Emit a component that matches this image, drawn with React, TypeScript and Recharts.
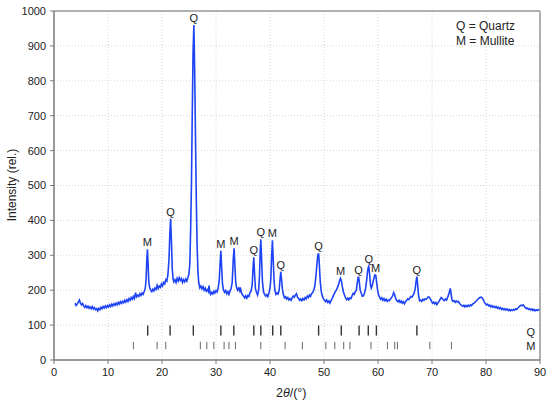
import { ComposedChart, Line, Scatter, XAxis, YAxis, CartesianGrid, ReferenceLine } from 'recharts'

// XRD scan: [2θ (°), intensity (rel.)]
const scan: [number, number][] = [
  [3.9, 163], [4.1, 156], [4.3, 160], [4.5, 166], [4.7, 172], [4.9, 163], [5.1, 158], [5.3, 162], [5.5, 155], [5.7, 151],
  [5.9, 156], [6.1, 150], [6.3, 154], [6.5, 148], [6.7, 152], [6.9, 147], [7.1, 153], [7.3, 146], [7.5, 150], [7.7, 144],
  [7.9, 147], [8.1, 141], [8.3, 148], [8.5, 144], [8.7, 151], [8.9, 147], [9.1, 153], [9.3, 149], [9.5, 155], [9.7, 150],
  [9.9, 156], [10.1, 152], [10.3, 158], [10.5, 153], [10.7, 160], [10.9, 155], [11.1, 161], [11.3, 157], [11.5, 163], [11.7, 158],
  [11.9, 165], [12.1, 160], [12.3, 167], [12.5, 162], [12.7, 168], [12.9, 164], [13.1, 171], [13.3, 166], [13.5, 173], [13.7, 168],
  [13.9, 176], [14.1, 171], [14.3, 179], [14.5, 174], [14.7, 182], [14.9, 176], [15.1, 193], [15.3, 181], [15.5, 186], [15.7, 182],
  [15.9, 190], [16.1, 185], [16.3, 192], [16.5, 188], [16.7, 196], [16.9, 205], [17.05, 230], [17.2, 290], [17.3, 317], [17.4, 285],
  [17.55, 225], [17.7, 208], [17.9, 200], [18.1, 196], [18.3, 203], [18.5, 198], [18.7, 206], [18.9, 202], [19.1, 214], [19.3, 205],
  [19.5, 212], [19.7, 208], [19.9, 218], [20.1, 212], [20.3, 222], [20.5, 218], [20.7, 230], [20.9, 226], [21.1, 245], [21.3, 290],
  [21.45, 360], [21.6, 405], [21.75, 340], [21.9, 262], [22.05, 232], [22.2, 224], [22.4, 230], [22.6, 222], [22.8, 234], [23.0, 226],
  [23.2, 236], [23.4, 228], [23.6, 233], [23.8, 222], [24.0, 230], [24.2, 224], [24.4, 232], [24.6, 226], [24.8, 236], [25.0, 248],
  [25.15, 275], [25.3, 370], [25.45, 500], [25.6, 700], [25.75, 880], [25.9, 960], [26.05, 830], [26.2, 640], [26.35, 460], [26.5, 330],
  [26.65, 255], [26.8, 222], [27.0, 207], [27.2, 212], [27.4, 204], [27.6, 210], [27.8, 200], [28.0, 206], [28.2, 197], [28.4, 202],
  [28.6, 196], [28.7, 213], [28.85, 196], [29.0, 188], [29.2, 194], [29.4, 189], [29.6, 197], [29.8, 192], [30.0, 199], [30.2, 195],
  [30.4, 206], [30.6, 228], [30.75, 275], [30.9, 313], [31.05, 265], [31.2, 218], [31.4, 200], [31.6, 194], [31.8, 199], [32.0, 190],
  [32.2, 196], [32.4, 188], [32.6, 198], [32.8, 205], [33.0, 222], [33.2, 290], [33.35, 320], [33.5, 270], [33.65, 222], [33.8, 208],
  [34.0, 200], [34.2, 206], [34.4, 198], [34.5, 208], [34.7, 194], [34.9, 187], [35.1, 183], [35.3, 178], [35.5, 184], [35.7, 177],
  [35.9, 185], [36.1, 182], [36.3, 193], [36.5, 198], [36.7, 215], [36.85, 262], [37.0, 294], [37.15, 245], [37.3, 205], [37.5, 194],
  [37.7, 186], [37.9, 200], [38.05, 240], [38.2, 315], [38.3, 346], [38.42, 300], [38.6, 225], [38.8, 195], [39.0, 188], [39.2, 183],
  [39.4, 187], [39.6, 182], [39.8, 192], [40.0, 205], [40.15, 232], [40.3, 295], [40.45, 343], [40.6, 285], [40.75, 228], [40.9, 200],
  [41.1, 188], [41.3, 192], [41.5, 189], [41.7, 200], [41.85, 230], [42.0, 253], [42.15, 228], [42.3, 203], [42.5, 186], [42.7, 178],
  [42.9, 181], [43.1, 175], [43.3, 179], [43.5, 172], [43.7, 176], [43.9, 171], [44.1, 178], [44.3, 183], [44.5, 180], [44.7, 186],
  [44.9, 190], [45.1, 180], [45.3, 176], [45.5, 171], [45.7, 175], [45.9, 170], [46.1, 176], [46.3, 172], [46.5, 179], [46.7, 175],
  [46.9, 183], [47.1, 179], [47.3, 186], [47.5, 182], [47.7, 190], [47.9, 193], [48.1, 200], [48.3, 212], [48.5, 240], [48.7, 275],
  [48.85, 300], [49.0, 306], [49.15, 270], [49.3, 225], [49.5, 195], [49.7, 183], [49.9, 175], [50.1, 171], [50.3, 167], [50.5, 172],
  [50.7, 165], [50.9, 169], [51.1, 163], [51.3, 170], [51.5, 176], [51.7, 183], [51.9, 190], [52.1, 196], [52.3, 201], [52.5, 208],
  [52.7, 216], [52.9, 228], [53.05, 234], [53.2, 228], [53.4, 210], [53.6, 195], [53.8, 186], [54.0, 178], [54.2, 173], [54.4, 177],
  [54.6, 172], [54.8, 178], [55.0, 176], [55.2, 184], [55.4, 191], [55.6, 188], [55.8, 196], [56.0, 200], [56.15, 220], [56.3, 235],
  [56.4, 239], [56.55, 222], [56.7, 200], [56.9, 191], [57.1, 183], [57.3, 184], [57.5, 192], [57.7, 205], [57.9, 228], [58.05, 252],
  [58.2, 266], [58.3, 269], [58.45, 245], [58.6, 215], [58.75, 206], [58.9, 212], [59.1, 225], [59.3, 238], [59.45, 244], [59.6, 242],
  [59.75, 222], [59.9, 203], [60.1, 186], [60.3, 180], [60.5, 174], [60.7, 178], [60.9, 171], [61.1, 176], [61.3, 170], [61.5, 174],
  [61.7, 168], [61.9, 172], [62.1, 170], [62.3, 175], [62.5, 178], [62.7, 184], [62.9, 193], [63.1, 186], [63.3, 175], [63.5, 170],
  [63.7, 167], [63.9, 171], [64.1, 165], [64.3, 169], [64.5, 163], [64.7, 167], [64.9, 161], [65.1, 167], [65.3, 171], [65.5, 175],
  [65.7, 173], [65.9, 178], [66.1, 182], [66.3, 180], [66.5, 186], [66.7, 192], [66.9, 205], [67.05, 225], [67.2, 239], [67.35, 215],
  [67.5, 186], [67.7, 170], [67.9, 172], [68.1, 168], [68.3, 174], [68.5, 171], [68.7, 175], [68.9, 174], [69.1, 177], [69.3, 181],
  [69.5, 180], [69.7, 175], [69.9, 168], [70.1, 163], [70.3, 166], [70.5, 161], [70.7, 165], [70.9, 159], [71.1, 164], [71.3, 168],
  [71.5, 174], [71.7, 179], [71.9, 176], [72.1, 172], [72.3, 170], [72.5, 175], [72.7, 172], [72.9, 180], [73.1, 188], [73.3, 200],
  [73.4, 205], [73.55, 188], [73.7, 172], [73.9, 168], [74.1, 170], [74.3, 165], [74.5, 169], [74.7, 166], [74.9, 168], [75.1, 162],
  [75.3, 159], [75.5, 156], [75.7, 154], [75.9, 157], [76.1, 152], [76.3, 156], [76.5, 153], [76.7, 157], [76.9, 154], [77.1, 158],
  [77.3, 156], [77.5, 160], [77.7, 162], [77.9, 164], [78.1, 168], [78.3, 170], [78.5, 174], [78.7, 177], [78.9, 179], [79.1, 180],
  [79.3, 178], [79.5, 172], [79.7, 166], [79.9, 161], [80.1, 158], [80.3, 160], [80.5, 155], [80.7, 157], [80.9, 152], [81.1, 156],
  [81.3, 151], [81.5, 154], [81.7, 150], [81.9, 153], [82.1, 148], [82.3, 151], [82.5, 147], [82.7, 150], [82.9, 145], [83.1, 148],
  [83.3, 144], [83.5, 147], [83.7, 143], [83.9, 146], [84.1, 142], [84.3, 145], [84.5, 141], [84.7, 144], [84.9, 142], [85.1, 145],
  [85.3, 143], [85.5, 147], [85.7, 145], [85.9, 149], [86.1, 152], [86.3, 155], [86.5, 157], [86.7, 156], [86.9, 158], [87.1, 153],
  [87.3, 150], [87.5, 147], [87.7, 149], [87.9, 145], [88.1, 147], [88.3, 143], [88.5, 146], [88.7, 142], [88.9, 145], [89.1, 141],
  [89.3, 144], [89.5, 142], [89.7, 144], [89.9, 143],
]

// labelled reflections: angle, peak top, phase
const peakAngles = [17.3, 21.6, 25.9, 30.9, 33.35, 37.0, 38.3, 40.45, 42.0, 49.0, 53.05, 56.4, 58.3, 59.55, 67.2]
const peakTops = [317, 405, 960, 313, 320, 294, 346, 343, 253, 306, 234, 239, 269, 244, 239]
const peakPhases = ['M', 'Q', 'Q', 'M', 'M', 'Q', 'Q', 'M', 'Q', 'Q', 'M', 'Q', 'Q', 'M', 'Q']

// reference stick patterns
const quartzSticks = [17.35, 21.5, 25.8, 30.9, 33.3, 37.0, 38.3, 40.5, 42.0, 49.0, 53.2, 56.5, 58.2, 59.7, 67.2]
const mulliteSticks = [14.7, 19.1, 20.7, 27.1, 28.3, 29.6, 31.5, 32.4, 33.6, 38.3, 42.8, 46.0, 50.35, 52.0, 53.65, 54.8, 58.7, 61.75, 63.1, 63.6, 69.6, 73.6]
const quartzRow = [70, 99]
const mulliteRow = [31, 52]
const rowLabels = [
  { x: 88.3, y: 80, t: 'Q' },
  { x: 88.3, y: 40, t: 'M' },
]

const xTicks = [0, 10, 20, 30, 40, 50, 60, 70, 80, 90]
const yTicks = [0, 100, 200, 300, 400, 500, 600, 700, 800, 900, 1000]

const FONT = '"Liberation Sans", Arial, Helvetica, sans-serif'
const TEXT = '#222'
const AXIS = '#7a7a7a'

const lineData = scan.map(([x, y]) => ({ x, y }))
const peakData = peakAngles.map((x, i) => ({ x, y: peakTops[i], t: peakPhases[i] }))

function PeakLabel(props: any) {
  const { cx, cy, payload } = props
  return (
    <text x={cx} y={cy - 3} textAnchor="middle" fontSize={11} fill={TEXT} fontFamily={FONT}>
      {payload.t}
    </text>
  )
}

function RowLabel(props: any) {
  const { cx, cy, payload } = props
  return (
    <text x={cx} y={cy} dy="0.36em" textAnchor="middle" fontSize={11} fill={TEXT} fontFamily={FONT}>
      {payload.t}
    </text>
  )
}

export default function App() {
  return (
    <div style={{ position: 'absolute', left: 0, top: 0, width: 550, height: 406, background: '#fff', fontFamily: FONT }}>
      <ComposedChart width={550} height={406} margin={{ top: 11, right: 10, bottom: 16, left: 0 }}>
        <CartesianGrid stroke="#d6d6d6" strokeDasharray="1 2" />
        <XAxis
          dataKey="x"
          type="number"
          domain={[0, 90]}
          ticks={xTicks}
          height={30}
          tick={{ fill: TEXT, fontSize: 11, fontFamily: FONT }}
          tickSize={4}
          tickMargin={4}
          stroke={AXIS}
          axisLine={{ stroke: AXIS, strokeWidth: 1.5 }}
          tickLine={{ stroke: AXIS }}
        />
        <YAxis
          type="number"
          domain={[0, 1000]}
          ticks={yTicks}
          width={54}
          tick={{ fill: TEXT, fontSize: 11, fontFamily: FONT }}
          tickSize={4}
          tickMargin={4}
          axisLine={{ stroke: AXIS, strokeWidth: 1.5 }}
          tickLine={{ stroke: AXIS }}
        />
        <ReferenceLine y={1000} stroke="#999" strokeWidth={1.5} />
        <ReferenceLine x={90} stroke="#999" strokeWidth={1.5} />
        {quartzSticks.map((a) => (
          <ReferenceLine
            key={'q' + a}
            segment={[{ x: a, y: quartzRow[0] }, { x: a, y: quartzRow[1] }]}
            stroke="#333"
            strokeWidth={1.4}
          />
        ))}
        {mulliteSticks.map((a) => (
          <ReferenceLine
            key={'m' + a}
            segment={[{ x: a, y: mulliteRow[0] }, { x: a, y: mulliteRow[1] }]}
            stroke="#555"
            strokeWidth={0.9}
          />
        ))}
        <Line
          data={lineData}
          dataKey="y"
          type="linear"
          stroke="#1d43f5"
          strokeWidth={1.6}
          dot={false}
          isAnimationActive={false}
        />
        <Scatter data={peakData} dataKey="y" shape={PeakLabel} isAnimationActive={false} />
        <Scatter data={rowLabels} dataKey="y" shape={RowLabel} isAnimationActive={false} />
      </ComposedChart>
      <div style={{ position: 'absolute', left: 456, top: 19, fontSize: 12, lineHeight: '15px', color: TEXT }}>
        <div>Q = Quartz</div>
        <div>M = Mullite</div>
      </div>
      <div
        style={{
          position: 'absolute',
          left: 12,
          top: 185,
          transform: 'translate(-50%, -50%) rotate(-90deg)',
          whiteSpace: 'nowrap',
          fontSize: 12,
          color: TEXT,
        }}
      >
        Intensity (rel.)
      </div>
      <div style={{ position: 'absolute', left: 276, top: 386, fontSize: 12.5, color: TEXT, whiteSpace: 'nowrap' }}>
        2<i>θ</i>/(°)
      </div>
    </div>
  )
}
